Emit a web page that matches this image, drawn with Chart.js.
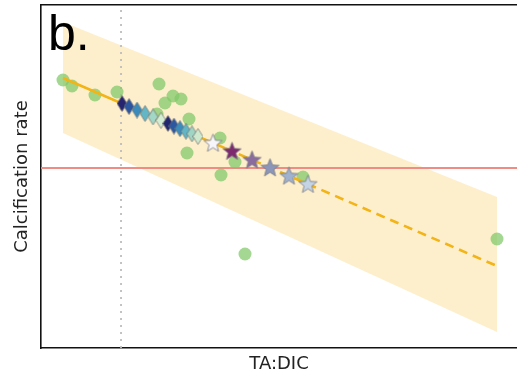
<!DOCTYPE html>
<html>
<head>
<meta charset="utf-8">
<script src="https://cdn.jsdelivr.net/npm/chart.js@4/dist/chart.umd.min.js"></script>
<style>
  html, body { margin: 0; padding: 0; background: #ffffff; overflow: hidden; }
  #wrap { width: 517px; height: 379px; }
</style>
</head>
<body>
<div id="wrap"><canvas id="c" width="517" height="379"></canvas></div>
<script>
// Observed calcification rates against TA:DIC (arbitrary plot units)
const obsX = [4.62, 6.51, 11.34, 15.97, 24.79, 27.73, 29.41, 26.05, 24.37, 31.09, 30.67, 37.61, 40.76, 37.82, 55.04, 42.86, 95.80];
const obsY = [78.13, 76.38, 73.76, 74.64, 76.97, 73.47, 72.59, 71.43, 68.22, 66.76, 56.85, 61.22, 54.23, 50.44, 49.85, 27.41, 31.78];

// Regression fit: fitted range (solid) and extrapolation (dashed)
const fitX = [4.62, 38.66];
const fitY = [78.72, 58.26];
const extX = [38.66, 95.80];
const extY = [58.26, 23.91];

// Prediction band edges
const bandX = [4.62, 95.80];
const bandUpper = [95.04, 44.02];
const bandLower = [62.68, 4.66];

// Reference levels
const zeroCalcification = 52.48;
const presentRatio = 16.81;

// Scenario projections (diamonds) on the fitted line
const diamondX = [17.02, 18.49, 20.17, 21.85, 23.53, 25.21, 26.68, 27.94, 29.20, 30.46, 31.72, 32.98];
const diamondY = [71.27, 70.38, 69.37, 68.36, 67.36, 66.35, 65.46, 64.70, 63.95, 63.19, 62.43, 61.68];
const diamondColors = ['#27246f', '#2c55a0', '#3a8abb', '#63b6c6', '#a2d6c6', '#d4ecd2',
                       '#22276f', '#2c58a2', '#3b8cbd', '#62b5c5', '#a0d5c5', '#cfe9cf'];

// Future projections (stars) on the extrapolated line
const starX = [36.13, 40.13, 44.33, 48.11, 52.10, 56.09];
const starY = [59.78, 57.38, 54.85, 52.58, 50.18, 47.79];
const starColors = ['#f6f6fa', '#7e2a6e', '#8a6c9e', '#8c96ba', '#a0b2cd', '#c4d4e5'];

function pts(xs, ys) { return xs.map((x, i) => ({ x: x, y: ys[i] })); }

function diamondSprite(fill) {
  const w = 11, h = 17;
  const cv = document.createElement('canvas');
  cv.width = w; cv.height = h;
  const g = cv.getContext('2d');
  g.beginPath();
  g.moveTo(w / 2, 0.5);
  g.lineTo(w - 0.5, h / 2);
  g.lineTo(w / 2, h - 0.5);
  g.lineTo(0.5, h / 2);
  g.closePath();
  g.fillStyle = fill;
  g.fill();
  g.strokeStyle = 'rgba(110,110,110,0.85)';
  g.lineWidth = 0.8;
  g.stroke();
  return cv;
}

function starSprite(fill) {
  const s = 21, R = 9.5, r = 4.1;
  const cv = document.createElement('canvas');
  cv.width = s; cv.height = s;
  const g = cv.getContext('2d');
  g.beginPath();
  for (let k = 0; k < 10; k++) {
    const rad = (k % 2 === 0) ? R : r;
    const a = -Math.PI / 2 + k * Math.PI / 5;
    const px = s / 2 + rad * Math.cos(a);
    const py = s / 2 + 0.6 + rad * Math.sin(a);
    if (k === 0) g.moveTo(px, py); else g.lineTo(px, py);
  }
  g.closePath();
  g.fillStyle = fill;
  g.fill();
  g.strokeStyle = 'rgba(120,120,130,0.9)';
  g.lineWidth = 0.9;
  g.stroke();
  return cv;
}

// Panel letter
const panelLabel = {
  id: 'panelLabel',
  afterDatasetsDraw(chart) {
    const ctx = chart.ctx;
    ctx.save();
    ctx.fillStyle = '#000000';
    ctx.font = '50px "Liberation Sans", Arial, sans-serif';
    ctx.textBaseline = 'alphabetic';
    ctx.textAlign = 'left';
    ctx.fillText('b.', 48, 50);
    ctx.restore();
  }
};

const axisFont = { family: '"DejaVu Sans", sans-serif', size: 18 };

new Chart(document.getElementById('c'), {
  type: 'scatter',
  data: {
    datasets: [
      { // 0: band upper edge, filled down to the lower edge
        data: pts(bandX, bandUpper), showLine: true, fill: '+1',
        backgroundColor: 'rgba(253,228,170,0.6)', borderWidth: 0, pointRadius: 0, order: 9
      },
      { // 1: band lower edge
        data: pts(bandX, bandLower), showLine: true, fill: false,
        borderWidth: 0, pointRadius: 0, order: 9
      },
      { // 2: zero calcification level
        data: [{ x: 0, y: zeroCalcification }, { x: 100, y: zeroCalcification }],
        showLine: true, borderColor: '#f08c84', borderWidth: 2, pointRadius: 0, order: 8
      },
      { // 3: present-day ratio
        data: [{ x: presentRatio, y: 0 }, { x: presentRatio, y: 100 }],
        showLine: true, borderColor: '#bdbdbd', borderWidth: 1.8, borderDash: [2, 5],
        pointRadius: 0, order: 7
      },
      { // 4: observations
        data: pts(obsX, obsY), backgroundColor: 'rgba(128,200,104,0.72)', borderWidth: 0,
        pointRadius: 6.5, order: 6
      },
      { // 5: fitted line
        data: pts(fitX, fitY), showLine: true, borderColor: '#f2b416', borderWidth: 2.6,
        pointRadius: 0, order: 5
      },
      { // 6: extrapolated line
        data: pts(extX, extY), showLine: true, borderColor: '#f2b416', borderWidth: 2.6,
        borderDash: [9, 6], pointRadius: 0, order: 5
      },
      { // 7: scenario diamonds
        data: pts(diamondX, diamondY), pointStyle: diamondColors.map(diamondSprite),
        pointRadius: 8, order: 3
      },
      { // 8: projection stars
        data: pts(starX, starY), pointStyle: starColors.map(starSprite),
        pointRadius: 10, order: 2
      }
    ]
  },
  options: {
    responsive: false,
    animation: false,
    devicePixelRatio: 1,
    layout: { autoPadding: false, padding: 0 },
    plugins: { legend: { display: false }, tooltip: { enabled: false } },
    scales: {
      x: {
        type: 'linear', position: 'bottom', min: 0, max: 100,
        grid: { display: false, drawTicks: false },
        ticks: { display: false },
        border: { display: true, color: '#111111', width: 1.6 },
        title: { display: true, text: 'TA:DIC', color: '#222222', font: axisFont, padding: { top: 0, bottom: 4 } },
        afterFit(scale) { scale.height = 31; }
      },
      xTop: {
        type: 'linear', position: 'top', min: 0, max: 100,
        grid: { display: false, drawTicks: false },
        ticks: { display: false },
        border: { display: true, color: '#111111', width: 1.6 },
        afterFit(scale) { scale.height = 5; }
      },
      y: {
        type: 'linear', position: 'left', min: 0, max: 100,
        grid: { display: false, drawTicks: false },
        ticks: { display: false },
        border: { display: true, color: '#111111', width: 1.6 },
        title: { display: true, text: 'Calcification rate', color: '#222222', font: axisFont, padding: { top: 12, bottom: 0 } },
        afterFit(scale) { scale.width = 41; }
      }
    }
  },
  plugins: [panelLabel]
});
</script>
</body>
</html>
